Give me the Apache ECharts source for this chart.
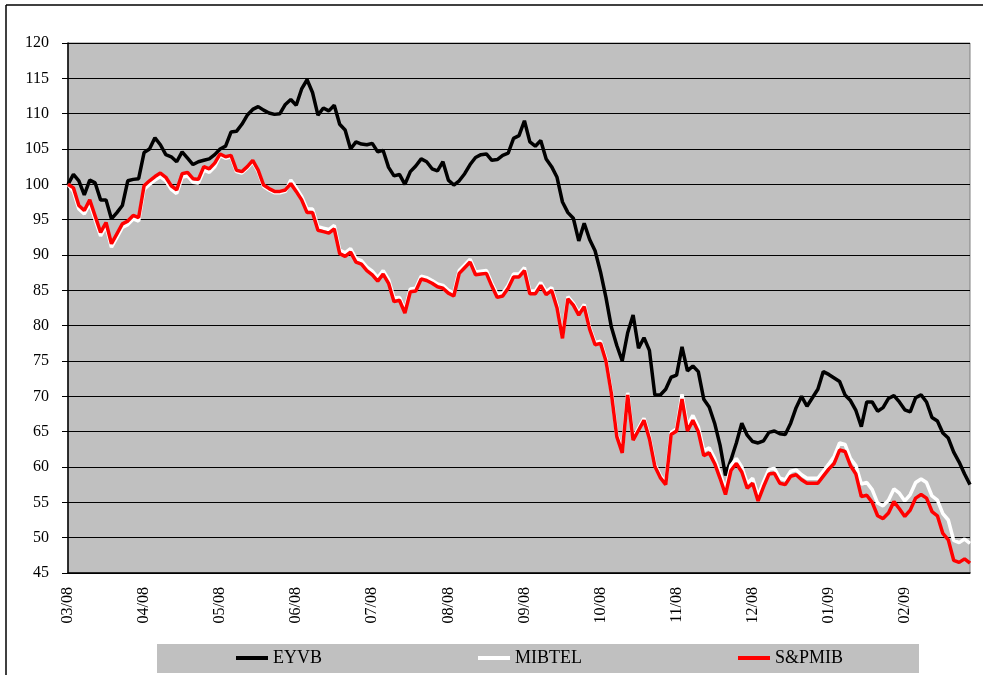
<!DOCTYPE html>
<html>
<head>
<meta charset="utf-8">
<script src="https://cdn.jsdelivr.net/npm/echarts@6/dist/echarts.min.js"></script>
<style>
  html, body { margin: 0; padding: 0; background: #fff; }
  #chart { width: 983px; height: 675px; }
</style>
</head>
<body>
<div id="chart"></div>
<script>
// month labels, one every 14 points
var months = ['03/08', '04/08', '05/08', '06/08', '07/08', '08/08',
              '09/08', '10/08', '11/08', '12/08', '01/09', '02/09'];
var PER_MONTH = 14;
var yTicks = { min: 45, max: 120, step: 5 };

// index values, 14 points per month (one row per month)
var eyvb = [
  100, 101.4, 100.5, 98.5, 100.6, 100.2, 97.8, 97.8, 95.1, 96, 97, 100.5, 100.7, 100.8,
  104.5, 105, 106.6, 105.6, 104.2, 103.9, 103.2, 104.6, 103.7, 102.8, 103.2, 103.4, 103.6, 104.2,
  105, 105.4, 107.4, 107.5, 108.5, 109.8, 110.6, 111, 110.5, 110.1, 109.9, 110, 111.3, 112,
  111.2, 113.5, 114.8, 113, 109.8, 110.8, 110.4, 111.2, 108.5, 107.7, 105, 106, 105.7, 105.6,
  105.8, 104.6, 104.8, 102.4, 101.2, 101.4, 100, 101.8, 102.6, 103.6, 103.2, 102.2, 101.9, 103.2,
  100.6, 99.9, 100.5, 101.5, 102.8, 103.8, 104.2, 104.3, 103.4, 103.5, 104.1, 104.4, 106.5, 106.9,
  109, 106, 105.4, 106.2, 103.6, 102.5, 101, 97.5, 96, 95.2, 92, 94.5, 92.2, 90.6,
  87.6, 84, 79.8, 77.2, 75, 79, 81.5, 76.8, 78.3, 76.5, 70.2, 70.2, 71, 72.7,
  73, 77, 73.6, 74.3, 73.5, 69.6, 68.5, 66.2, 63.1, 58.8, 61, 63.4, 66.2, 64.5,
  63.6, 63.4, 63.7, 64.9, 65.1, 64.7, 64.6, 66.2, 68.4, 70, 68.6, 69.8, 71, 73.5,
  73.1, 72.6, 72.1, 70.2, 69.4, 68, 65.7, 69.2, 69.2, 67.9, 68.4, 69.7, 70.1, 69.2,
  68.1, 67.8, 69.8, 70.2, 69.2, 67, 66.5, 64.8, 64.1, 62.1, 60.7, 59, 57.5
];
var mibtel = [
  100, 99, 96.5, 95.8, 97.3, 95, 92.7, 94.1, 91.1, 92.5, 93.9, 94.3, 95.1, 94.8,
  99.3, 100, 100.6, 101.1, 100.5, 99.3, 98.7, 101, 101.2, 100.3, 100.2, 102, 101.7, 102.5,
  104.1, 103.7, 103.9, 101.8, 101.6, 102.3, 103.2, 101.8, 99.7, 99.2, 98.8, 98.8, 99, 100.6,
  99.5, 98.3, 96.5, 96.5, 94, 93.8, 93.6, 94.2, 90.7, 90.3, 90.9, 89.5, 89.2, 88.3,
  87.7, 86.8, 87.8, 86.5, 83.9, 84, 82.2, 85.2, 85.3, 87, 86.8, 86.4, 85.9, 85.7,
  85, 84.6, 87.8, 88.6, 89.4, 87.6, 87.7, 87.8, 86, 84.4, 84.6, 85.7, 87.3, 87.3,
  88.2, 84.9, 84.9, 86.1, 84.8, 85.4, 82.9, 78.5, 84.1, 83.2, 81.8, 83, 79.8, 77.6,
  77.8, 75.3, 70.7, 64.6, 62.3, 70.5, 64.1, 65.5, 66.9, 64.3, 60.4, 58.8, 57.8, 64.9,
  65.4, 70.3, 65.8, 67.3, 65.7, 62.3, 62.7, 61.2, 59.1, 56.8, 60.2, 61.2, 60, 57.7,
  58.4, 55.9, 57.9, 59.7, 59.8, 58.4, 58.2, 59.4, 59.6, 58.9, 58.4, 58.4, 58.4, 59.4,
  60.4, 61.5, 63.4, 63.2, 61.2, 60.2, 57.6, 57.8, 56.8, 54.9, 54.5, 55.3, 56.9, 56.3,
  55.2, 56.1, 57.8, 58.3, 57.8, 55.9, 55.3, 53.4, 52.5, 49.6, 49.3, 49.8, 49.2
];
var spmib = [
  100, 99.5, 97, 96.3, 97.8, 95.5, 93.2, 94.6, 91.6, 93, 94.4, 94.8, 95.6, 95.3,
  99.8, 100.5, 101.1, 101.6, 101, 99.8, 99.2, 101.5, 101.7, 100.8, 100.7, 102.5, 102.2, 103,
  104.3, 103.9, 104.1, 102, 101.8, 102.5, 103.4, 102, 99.9, 99.4, 99, 99, 99.2, 100.1,
  99, 97.8, 96, 96, 93.5, 93.3, 93.1, 93.7, 90.2, 89.8, 90.4, 89, 88.7, 87.8,
  87.2, 86.3, 87.3, 86, 83.4, 83.6, 81.8, 84.8, 84.9, 86.6, 86.4, 86, 85.5, 85.3,
  84.6, 84.2, 87.4, 88.2, 89, 87.2, 87.3, 87.4, 85.6, 84, 84.2, 85.3, 86.9, 86.9,
  87.8, 84.5, 84.5, 85.7, 84.4, 85, 82.5, 78.2, 83.8, 82.9, 81.5, 82.7, 79.5, 77.3,
  77.5, 75, 70.4, 64.3, 62, 70.2, 63.8, 65.2, 66.6, 64, 60.1, 58.5, 57.5, 64.6,
  65.1, 69.6, 65.1, 66.6, 65, 61.6, 62, 60.5, 58.4, 56.1, 59.5, 60.5, 59.3, 57,
  57.7, 55.2, 57.2, 59, 59.1, 57.7, 57.5, 58.7, 58.9, 58.2, 57.7, 57.7, 57.7, 58.7,
  59.7, 60.5, 62.4, 62.2, 60.2, 59, 55.8, 56, 55, 53.1, 52.7, 53.5, 55.1, 54.1,
  53, 53.9, 55.6, 56.1, 55.6, 53.7, 53.1, 50.6, 49.7, 46.8, 46.5, 47, 46.4
];

var FONT = 'Liberation Serif';

function toPairs(arr) {
    return arr.map(function (v, i) { return [i, v]; });
}

function legendFor(name, left) {
    return {
        data: [name],
        left: left,
        top: 649,
        padding: 0,
        icon: 'rect',
        itemWidth: 32,
        itemHeight: 4,
        selectedMode: false,
        textStyle: { fontFamily: FONT, fontSize: 18, color: '#000' }
    };
}

var chart = echarts.init(document.getElementById('chart'));

chart.setOption({
    animation: false,
    backgroundColor: '#fff',
    textStyle: { fontFamily: FONT },
    graphic: [
        { type: 'line', shape: { x1: 6, y1: 5, x2: 983, y2: 5 }, style: { stroke: '#000', lineWidth: 1.5 } },
        { type: 'line', shape: { x1: 6, y1: 5, x2: 6, y2: 675 }, style: { stroke: '#000', lineWidth: 1.5 } },
        { type: 'rect', z: -1, shape: { x: 157, y: 644, width: 762, height: 29 }, style: { fill: '#c0c0c0' } }
    ],
    grid: {
        left: 68, top: 43, right: 13, bottom: 102,
        show: true,
        backgroundColor: '#c0c0c0',
        borderColor: '#808080',
        borderWidth: 1
    },
    legend: [
        legendFor('EYVB', 236),
        legendFor('MIBTEL', 478),
        legendFor('S&PMIB', 738)
    ],
    xAxis: {
        type: 'value',
        min: 0,
        max: eyvb.length - 1,
        interval: PER_MONTH,
        axisLine: { lineStyle: { color: '#000', width: 1.5 } },
        axisTick: { show: false },
        splitLine: { show: false },
        axisLabel: {
            rotate: 90,
            margin: 14,
            padding: [6, 0, 0, 0],
            fontFamily: FONT,
            fontSize: 16,
            color: '#000',
            showMaxLabel: false,
            formatter: function (v) {
                return v % PER_MONTH === 0 ? (months[v / PER_MONTH] || '') : '';
            }
        }
    },
    yAxis: {
        type: 'value',
        min: yTicks.min,
        max: yTicks.max,
        interval: yTicks.step,
        axisLine: { show: true, lineStyle: { color: '#000', width: 1.5 } },
        axisTick: { show: true, length: 6, lineStyle: { color: '#000' } },
        splitLine: { lineStyle: { color: '#000', width: 1 } },
        axisLabel: { margin: 19, fontFamily: FONT, fontSize: 16, color: '#000' }
    },
    series: [
        {
            name: 'EYVB', type: 'line', symbol: 'none',
            data: toPairs(eyvb),
            itemStyle: { color: '#000' },
            lineStyle: { color: '#000', width: 3.5 }
        },
        {
            name: 'MIBTEL', type: 'line', symbol: 'none',
            data: toPairs(mibtel),
            itemStyle: { color: '#fff' },
            lineStyle: { color: '#fff', width: 3.5 }
        },
        {
            name: 'S&PMIB', type: 'line', symbol: 'none',
            data: toPairs(spmib),
            itemStyle: { color: '#ff0000' },
            lineStyle: { color: '#ff0000', width: 3.5 }
        }
    ]
});

window.onresize = function () {
    chart.resize();
};
</script>
</body>
</html>
